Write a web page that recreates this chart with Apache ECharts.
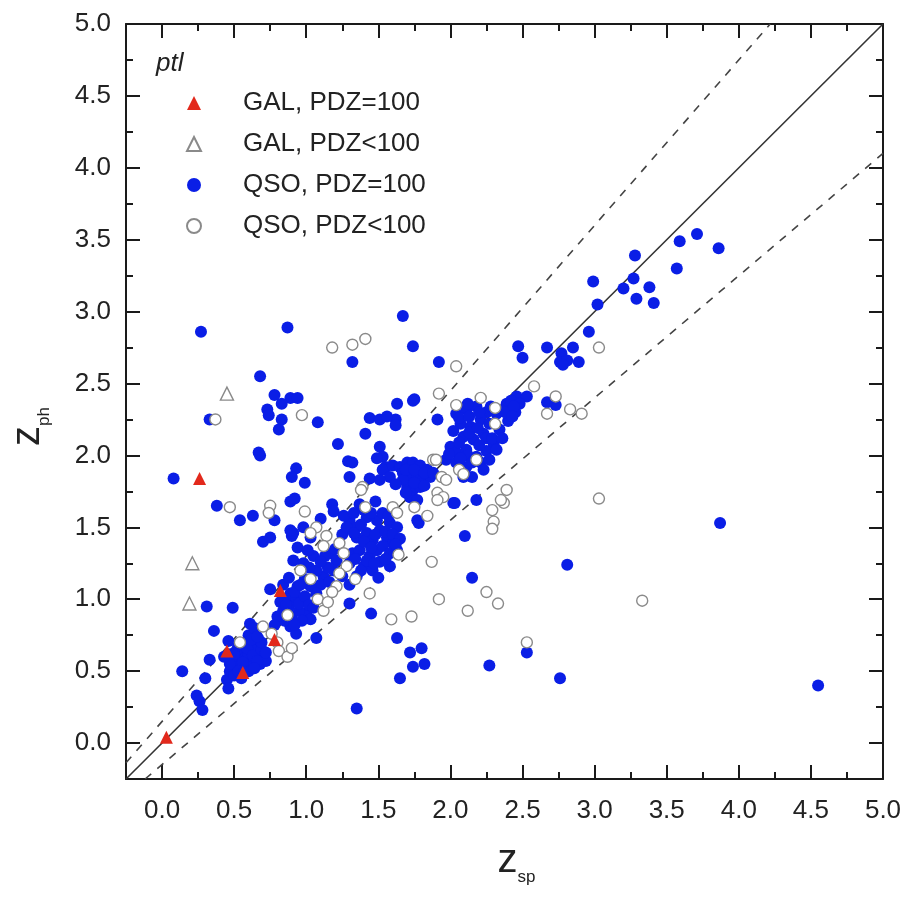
<!DOCTYPE html>
<html><head><meta charset="utf-8">
<script src="https://cdn.jsdelivr.net/npm/echarts@6/dist/echarts.min.js"></script>
<style>html,body{margin:0;padding:0;background:#fff}#c{width:911px;height:898px}</style>
</head><body><div id="c"></div>
<script>
// ---- data (z_sp, z_ph) ----
const qsoGood = [
[0.27,2.86],[0.87,2.89],[1.32,2.65],[1.67,2.97],[1.74,2.76],[1.92,2.65],[0.68,2.55],
[0.78,2.42],[0.89,2.40],[0.94,2.40],[0.83,2.36],[0.73,2.32],[0.74,2.28],[0.33,2.25],[0.83,2.25],[0.81,2.18],[1.08,2.23],
[1.44,2.26],[1.51,2.25],[1.62,2.25],[1.63,2.36],[1.56,2.27],[1.62,2.21],[1.41,2.15],[1.22,2.08],[0.68,2.00],[0.67,2.02],
[1.51,2.06],[1.29,1.96],[1.32,1.95],[1.53,1.99],[1.49,1.98],[1.55,1.92],[1.53,1.90],[1.60,1.93],[1.58,1.85],[1.30,1.85],[1.44,1.84],[1.51,1.83],
[0.93,1.91],[0.90,1.85],[0.99,1.81],[0.08,1.84],[1.75,2.39],[1.74,2.38],
[0.38,1.65],[0.54,1.55],[0.63,1.58],[0.78,1.55],[0.89,1.68],[0.92,1.70],[0.70,1.40],[0.75,1.43],[0.90,1.44],[0.91,1.46],
[0.31,0.95],[0.49,0.94],[0.36,0.78],[0.46,0.71],[0.33,0.58],[0.14,0.50],[0.30,0.45],[0.24,0.33],[0.26,0.29],[0.28,0.23],[0.45,0.44],[0.46,0.38],
[1.65,1.92],[1.70,1.95],[1.74,1.95],[1.79,1.93],[1.84,1.90],[1.67,1.88],[1.72,1.85],[1.77,1.86],[1.81,1.83],[1.86,1.85],
[1.70,1.78],[1.74,1.76],[1.79,1.78],[1.72,1.71],[1.77,1.69],[1.67,1.83],
[1.69,1.90],[1.75,1.90],[1.82,1.88],[1.88,1.88],[1.75,1.81],[1.82,1.79],[1.69,1.74],[1.62,1.80],
[2.04,2.29],[2.11,2.32],[2.18,2.34],[2.25,2.30],[2.32,2.29],[2.39,2.36],[2.46,2.41],[2.07,2.22],[2.14,2.20],[2.21,2.25],
[2.27,2.22],[2.34,2.18],[2.09,2.13],[2.16,2.11],[2.23,2.15],[2.30,2.08],[2.00,2.06],[2.04,2.02],[2.11,2.04],[2.18,1.99],
[2.25,2.03],[2.32,2.04],[1.97,1.97],[2.04,1.95],[2.11,1.92],[2.21,1.95],[2.27,1.97],[2.09,1.85],[2.15,1.85],[1.91,2.25],
[2.02,2.17],[2.06,2.26],[2.13,2.27],[2.20,2.30],[2.28,2.34],[2.36,2.31],[2.40,2.24],[2.38,2.30],[2.13,2.16],[2.19,2.19],
[2.25,2.12],[2.06,2.09],[2.12,2.00],[2.20,2.07],[2.29,2.12],[2.36,2.12],[1.99,2.01],[2.07,1.98],[2.15,1.95],[2.23,1.90],
[2.12,2.36],[2.42,2.38],[2.45,2.30],
[2.47,2.76],[2.50,2.68],[2.67,2.75],[2.77,2.71],[2.76,2.65],[2.81,2.66],[2.85,2.75],[2.89,2.65],[2.78,2.63],[2.53,2.41],
[2.48,2.36],[2.44,2.34],[2.43,2.27],[2.67,2.37],[2.73,2.35],[2.96,2.86],[2.99,3.21],[3.02,3.05],[3.20,3.16],[3.27,3.23],
[3.28,3.39],[3.29,3.09],[3.38,3.17],[3.41,3.06],[3.57,3.30],[3.59,3.49],[3.71,3.54],[3.86,3.44],
[1.30,1.55],[1.35,1.50],[1.42,1.57],[1.49,1.55],[1.53,1.60],[1.58,1.53],[1.63,1.50],[1.35,1.43],[1.42,1.46],[1.46,1.41],
[1.51,1.48],[1.56,1.43],[1.60,1.39],[1.32,1.32],[1.37,1.34],[1.44,1.30],[1.49,1.34],[1.40,1.23],[1.46,1.20],[1.35,1.16],
[1.53,1.37],[1.58,1.32],[1.63,1.34],[1.51,1.26],[1.58,1.23],[1.12,1.16],[1.17,1.32],[1.21,1.27],[1.19,1.20],[1.18,1.66],
[1.19,1.61],[1.37,1.66],[1.48,1.68],[1.77,1.55],[1.78,1.53],[2.02,1.67],[2.18,1.69],[2.03,1.67],
[1.25,1.45],[1.28,1.50],[1.33,1.46],[1.38,1.52],[1.40,1.40],[1.45,1.36],[1.48,1.45],[1.55,1.47],[1.60,1.45],[1.65,1.42],
[1.30,1.25],[1.34,1.28],[1.38,1.20],[1.42,1.27],[1.47,1.25],[1.55,1.28],[1.62,1.38],[1.26,1.58],[1.33,1.60],[1.40,1.62],
[1.45,1.60],[1.57,1.58],[1.15,1.22],[1.20,1.35],[1.13,1.30],[1.07,1.20],[1.02,1.22],[1.10,1.10],[1.16,1.12],[1.25,1.16],
[1.30,1.10],[1.50,1.15],
[1.03,1.09],[1.07,1.04],[0.99,1.14],[0.94,1.09],[0.89,1.04],[1.05,1.30],[1.10,1.26],[0.91,1.27],[0.98,1.25],[0.94,1.36],
[1.01,1.34],[0.98,1.50],[1.03,1.43],[0.89,1.48],[1.10,1.56],
[0.48,0.62],[0.50,0.58],[0.52,0.55],[0.55,0.60],[0.57,0.64],[0.58,0.57],[0.60,0.62],[0.62,0.66],[0.64,0.58],[0.66,0.62],
[0.68,0.55],[0.70,0.60],[0.72,0.57],[0.55,0.52],[0.60,0.50],[0.62,0.53],[0.65,0.68],[0.67,0.72],[0.60,0.75],[0.58,0.70],
[0.52,0.65],[0.47,0.50],[0.50,0.47],[0.55,0.45],[0.47,0.55],
[0.50,0.62],[0.53,0.68],[0.56,0.56],[0.59,0.66],[0.63,0.61],[0.66,0.57],[0.69,0.65],[0.53,0.50],[0.57,0.49],[0.64,0.52],
[0.72,0.63],[0.69,0.70],[0.62,0.72],[0.43,0.60],
[0.61,0.83],[0.64,0.80],[0.66,0.74],[0.75,1.07],[0.87,1.00],[0.93,1.00],[0.89,0.81],[0.93,0.76],[1.07,0.73],[1.00,0.90],
[1.03,0.86],[0.82,0.98],[0.84,0.92],[0.88,0.95],[0.90,0.88],[0.95,0.92],[0.97,0.85],[0.92,1.05],[0.96,1.10],[0.85,0.85],
[0.95,0.97],[0.99,1.02],[1.02,0.96],[0.86,0.96],[0.80,0.88],[0.78,0.82],[0.92,0.82],[1.05,0.94],[0.84,1.10],[0.88,1.15],
[2.10,1.44],[2.15,1.15],[2.81,1.24],[3.87,1.53],[4.55,0.40],[2.27,0.54],[2.53,0.63],[2.76,0.45],
[1.35,0.24],[1.30,0.97],[1.45,0.90],[1.63,0.73],[1.65,0.45],[1.72,0.63],[1.80,0.66],[1.74,0.53],[1.82,0.55]
];
const qsoPoor = [
[1.18,2.75],[1.32,2.77],[1.41,2.81],[0.97,2.28],[0.37,2.25],[0.47,1.64],[0.75,1.65],[0.74,1.60],[0.99,1.61],[1.39,1.78],
[2.04,2.62],[3.03,2.75],[2.58,2.48],[2.73,2.41],[2.83,2.32],[2.91,2.29],[2.67,2.29],[1.92,2.43],[2.04,2.35],[2.21,2.40],
[2.31,2.33],[2.31,2.22],[1.88,1.97],[2.18,1.97],[2.39,1.76],[2.37,1.67],[2.29,1.62],[2.30,1.54],[2.29,1.49],[3.03,1.70],
[1.87,1.26],[2.25,1.05],[2.33,0.97],[2.12,0.92],[1.92,1.00],[1.73,0.88],[1.59,0.86],[2.53,0.70],[3.33,0.99],[1.91,1.74],
[1.95,1.71],[1.91,1.69],[1.84,1.58],[1.75,1.64],[1.41,1.64],[1.64,1.31],[1.07,1.50],[1.03,1.46],[1.14,1.44],[1.12,1.37],
[1.23,1.39],[1.26,1.32],[1.28,1.23],[0.96,1.20],[1.03,1.14],[1.21,1.09],[1.34,1.14],[1.44,1.04],[1.23,1.18],[1.12,0.92],
[0.87,0.89],[0.70,0.81],[0.54,0.70],[0.80,0.70],[0.81,0.64],[0.87,0.60],[1.90,1.97],[1.94,1.85],[1.97,1.83],[2.06,1.90],
[2.09,1.87],[1.38,1.76],[1.60,1.64],[1.63,1.60],[1.08,1.00],[1.15,0.98],[1.18,1.05],[0.90,0.66],[0.76,0.76],[2.35,1.69]
];
const galGood = [[0.03,0.04],[0.26,1.84],[0.45,0.64],[0.56,0.49],[0.82,1.06],[0.78,0.72]];
const galPoor = [[0.45,2.43],[0.21,1.25],[0.19,0.97]];
// reference lines: z_ph = z_sp and z_ph = z_sp ± 0.15(1+z_sp)
const oneToOne = [[-0.25,-0.25],[5.0,5.0]];
const upperBound = [[-0.25,-0.1375],[4.2174,5.0]];
const lowerBound = [[-0.1176,-0.25],[5.0,4.1]];
const seriesNames = ['GAL, PDZ=100','GAL, PDZ<100','QSO, PDZ=100','QSO, PDZ<100'];
const legendTitle = 'ptl';

const FONT = 'Liberation Sans, Arial, Helvetica, sans-serif';
const INK = '#1a1a1a';
function axis(extra) {
  return Object.assign({
    type: 'value', min: -0.25, max: 5.0, splitNumber: 10, minInterval: 0.5, maxInterval: 0.5,
    axisLine: { show: true, onZero: false, lineStyle: { color: INK, width: 2 } },
    axisTick: { show: true, inside: true, length: 14, lineStyle: { color: INK, width: 2 } },
    minorTick: { show: true, splitNumber: 2, length: 7, lineStyle: { color: INK, width: 2 } },
    splitLine: { show: false },
    axisLabel: { show: true, fontFamily: FONT, fontSize: 26, color: '#222', showMinLabel: false,
      formatter: v => v.toFixed(1) }
  }, extra);
}
const nameRich = {
  z: { fontFamily: FONT, fontSize: 40, color: '#222', lineHeight: 40 },
  s: { fontFamily: FONT, fontSize: 17, color: '#222', lineHeight: 17, padding: [32, 0, 0, 0] }
};
const chart = echarts.init(document.getElementById('c'), null, { renderer: 'canvas' });
chart.setOption({
  animation: false,
  backgroundColor: '#ffffff',
  title: { text: legendTitle, left: 151, top: 46,
    textStyle: { fontFamily: FONT, fontStyle: 'italic', fontWeight: 'normal', fontSize: 26, color: '#222' } },
  legend: {
    data: seriesNames, orient: 'vertical', left: 181, top: 85, itemWidth: 14, itemHeight: 14, itemGap: 15,
    textStyle: { fontFamily: FONT, fontSize: 26, color: '#222', lineHeight: 26, padding: [0, 0, 0, 37] }
  },
  grid: { left: 126, right: 28, top: 24, bottom: 119, outerBoundsMode: 'none' },
  xAxis: [
    axis({ position: 'bottom', axisLabel: Object.assign(axis({}).axisLabel, { margin: 19 }),
      name: '{z|z}{s|sp}', nameLocation: 'middle', nameGap: 62,
      nameTextStyle: { rich: nameRich, padding: [0, 0, 0, 24] } }),
    axis({ position: 'top', axisLabel: { show: false } })
  ],
  yAxis: [
    axis({ position: 'left', axisLabel: Object.assign(axis({}).axisLabel, { margin: 15 }),
      name: '{z|z}{s|ph}', nameLocation: 'middle', nameGap: 78,
      nameTextStyle: { rich: nameRich, padding: [0, 50, 0, 0] } }),
    axis({ position: 'right', axisLabel: { show: false } })
  ],
  series: [
    { type: 'line', data: oneToOne, symbol: 'none', silent: true, z: 1,
      lineStyle: { color: '#333', width: 1.6 } },
    { type: 'line', data: upperBound, symbol: 'none', silent: true, z: 1,
      lineStyle: { color: '#444', width: 1.6, type: [8, 8] } },
    { type: 'line', data: lowerBound, symbol: 'none', silent: true, z: 1,
      lineStyle: { color: '#444', width: 1.6, type: [8, 8] } },
    { name: seriesNames[2], type: 'scatter', data: qsoGood, symbol: 'circle', symbolSize: 12, z: 2,
      itemStyle: { color: '#0a1ee6', opacity: 1 } },
    { name: seriesNames[3], type: 'scatter', data: qsoPoor, symbol: 'circle', symbolSize: 11, z: 3,
      itemStyle: { color: '#ffffff', borderColor: '#8a8a8a', borderWidth: 1.4, opacity: 1 } },
    { name: seriesNames[0], type: 'scatter', data: galGood, symbol: 'triangle', symbolSize: 13, z: 4,
      itemStyle: { color: '#e2291c', opacity: 1 } },
    { name: seriesNames[1], type: 'scatter', data: galPoor, symbol: 'triangle', symbolSize: 13, z: 4,
      itemStyle: { color: '#ffffff', borderColor: '#8a8a8a', borderWidth: 1.4, opacity: 1 } }
  ]
});
</script></body></html>
